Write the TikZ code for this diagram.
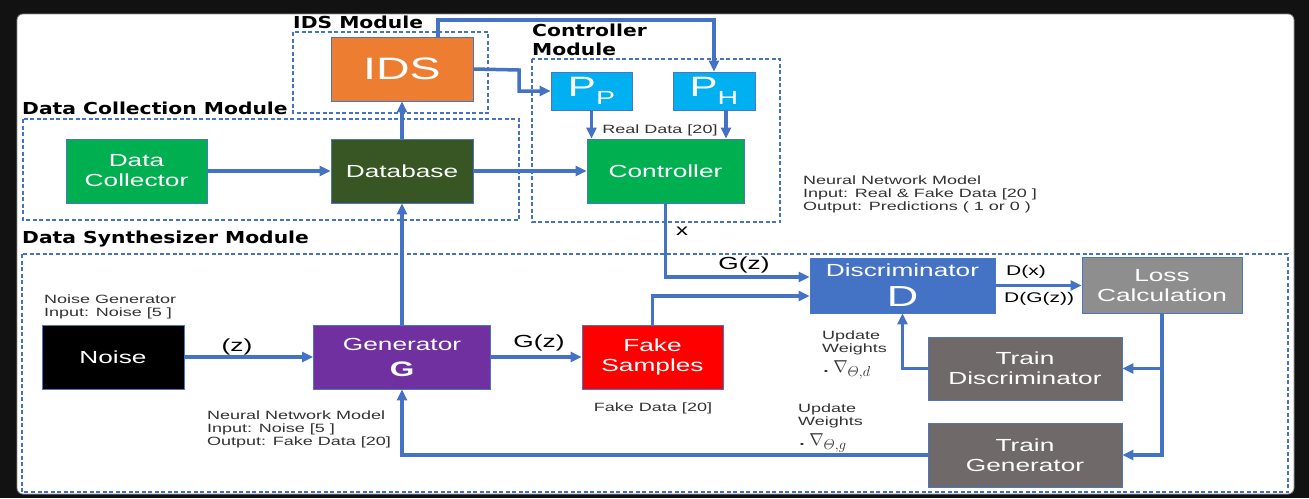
\documentclass[tikz,border=0pt]{standalone}
\usepackage[no-math]{fontspec}
\setmainfont[FakeStretch=1.5]{Liberation Sans}
\newfontfamily\modfont[FakeStretch=1.23]{DejaVu Sans}
\usetikzlibrary{arrows.meta,calc}
\definecolor{abl}{HTML}{4472C4}
\definecolor{bedge}{HTML}{4A76C6}
\definecolor{idsc}{HTML}{ED7D31}
\definecolor{grn}{HTML}{00B050}
\definecolor{dgrn}{HTML}{375623}
\definecolor{cyn}{HTML}{00B0F0}
\definecolor{prp}{HTML}{7030A0}
\definecolor{lossc}{HTML}{8E8E8E}
\definecolor{trn}{HTML}{6F6A69}
\definecolor{txt}{HTML}{333333}
\begin{document}
\begin{tikzpicture}[x=1pt,y=-1pt,
  box/.style={draw=bedge, line width=0.9pt, text=white, align=center, inner sep=0pt,
    font=\fontsize{17.5}{20}\selectfont},
  module/.style={draw=abl, line width=1.4pt, dash pattern=on 4pt off 2.5pt},
  modlbl/.style={inner sep=0pt, text=black, align=left, font=\modfont\bfseries\fontsize{16.5}{19}\selectfont},
  note/.style={inner sep=0pt, text=txt, align=left, font=\fontsize{12}{13}\selectfont},
  lbl/.style={inner sep=0pt, text=black, font=\fontsize{17.5}{20}\selectfont},
  arr/.style={draw=abl, line width=3.5pt, -{Triangle[length=11pt,width=10pt]}}]
\useasboundingbox (0,0) rectangle (1309,498);
\fill[black!93] (0,0) rectangle (1309,498);
\fill[white, rounded corners=6pt] (17,14) rectangle (1294,494);
\draw[black!45, line width=0.8pt, rounded corners=6pt] (17,14) rectangle (1294,494);

% module frames
\draw[module] (293,32) rectangle (488,113);
\draw[module] (23,119) rectangle (519,220);
\draw[module] (532,59) rectangle (780,222);
\draw[module] (22,254) rectangle (1288,492);
\node[modlbl, anchor=west] (lids) at (293,22) {IDS Module};
\node[modlbl, anchor=west] (ldc) at (22,108) {Data Collection Module};
\node[modlbl, anchor=west] (lctl) at (532,39.5) {Controller\\Module};
\node[modlbl, anchor=west] (lds) at (22,239) {Data Synthesizer Module};

% nodes
\node[box, fill=idsc, minimum width=142pt, minimum height=64pt, font=\fontsize{31}{31}\selectfont] (IDS) at (402,69) {IDS};
\node[box, fill=grn, minimum width=141pt, minimum height=64pt] (DC) at (136.5,171) {Data\\Collector};
\node[box, fill=dgrn, minimum width=142pt, minimum height=64pt] (DB) at (402,171) {Database};
\node[box, fill=cyn, minimum width=81pt, minimum height=38pt, font=\fontsize{28}{28}\selectfont] (PP) at (591.5,91) {P\raisebox{-8pt}{\fontsize{19}{19}\selectfont P}};
\node[box, fill=cyn, minimum width=82pt, minimum height=38pt, font=\fontsize{28}{28}\selectfont] (PH) at (714,91) {P\raisebox{-8pt}{\fontsize{19}{19}\selectfont H}};
\node[box, fill=grn, minimum width=157pt, minimum height=64pt] (CT) at (665.5,171) {Controller};
\node[box, fill=abl, minimum width=185pt, minimum height=55pt] (DI) at (902.5,285.5) {Discriminator\\[9pt]{\fontsize{29}{29}\selectfont D}};
\node[box, fill=lossc, minimum width=160pt, minimum height=56pt] (LO) at (1162,285.5) {Loss\\Calculation};
\node[box, fill=trn, minimum width=194pt, minimum height=63pt] (TD) at (1025,368.5) {Train\\Discriminator};
\node[box, fill=trn, minimum width=194pt, minimum height=64pt] (TG) at (1025,455) {Train\\Generator};
\node[box, fill=black, minimum width=142pt, minimum height=64pt] (NO) at (113,357) {Noise};
\node[box, fill=prp, minimum width=177pt, minimum height=64pt] (GE) at (402,357) {Generator\\[6pt]{\bfseries\fontsize{21}{21}\selectfont G}};
\node[box, fill=red, minimum width=141pt, minimum height=64pt] (FS) at (652.5,357) {Fake\\Samples};

% connectors
\draw[arr] (DC) -- (DB);
\draw[arr] (DB) -- (IDS);
\draw[arr] (GE.north) -- (DB.south);
\draw[arr] (DB) -- (CT);
\coordinate (c1) at (519,70);
\draw[arr] (IDS.east) -- (c1) |- (PP.west);
\coordinate (c2) at (438,20);
\draw[arr] (IDS.north -| c2) -- (c2) -| (PH.north);
\draw[arr] (PP.south) -- (PP.south |- CT.north);
\draw[arr] ([xshift=12pt]PH.south) -- ([xshift=12pt]PH.south |- CT.north);
\draw[arr] (CT.south) |- ($(DI.west)+(0,-8.5)$);
\draw[arr] (FS.north) |- ($(DI.west)+(0,10.5)$);
\draw[arr] (NO) -- (GE);
\draw[arr] (GE) -- (FS);
\draw[arr] (DI) -- (LO);
\draw[arr] (LO.south) |- (TG.east);
\draw[arr] (LO.south |- TD.east) -- (TD.east);
\draw[arr] (TD.west) -| (DI.south);
\draw[arr] (TG.west) -| (GE.south);

% labels
\node[lbl, font=\fontsize{16}{16}\selectfont] (lx) at (682,231) {x};
\node[lbl] (lgz1) at (744,265) {G(z)};
\node[lbl] (lz) at (237,347) {(z)};
\node[lbl] (lgz2) at (539,343) {G(z)};
\node[lbl, font=\fontsize{14}{14}\selectfont, anchor=west] (ldx) at (1006,272) {D(x)};
\node[lbl, font=\fontsize{14}{14}\selectfont, anchor=west] (ldgz) at (1004,299) {D(G(z))};
\node[note] (lreal) at (660,130) {Real Data [20]};
\node[note, anchor=west] (nnd) at (803,194) {Neural Network Model\\Input: Real \& Fake Data [20 ]\\Output: Predictions ( 1 or 0 )};
\node[note, anchor=west] (nng) at (44,306.5) {Noise Generator\\Input: Noise [5 ]};
\node[note, anchor=west] (nngen) at (207,429) {Neural Network Model\\Input: Noise [5 ]\\Output: Fake Data [20]};
\node[note] (lfd) at (653,408) {Fake Data [20]};
\node[note, anchor=north west] (uwd) at (822,331) {Update\\Weights\\[4pt]{\fontsize{19}{19}\selectfont .\,$\nabla_{\mathnormal{\Theta},d}$}};
\node[note, anchor=north west] (uwg) at (798,404) {Update\\Weights\\[4pt]{\fontsize{19}{19}\selectfont .\,$\nabla_{\mathnormal{\Theta},g}$}};
\end{tikzpicture}
\end{document}
